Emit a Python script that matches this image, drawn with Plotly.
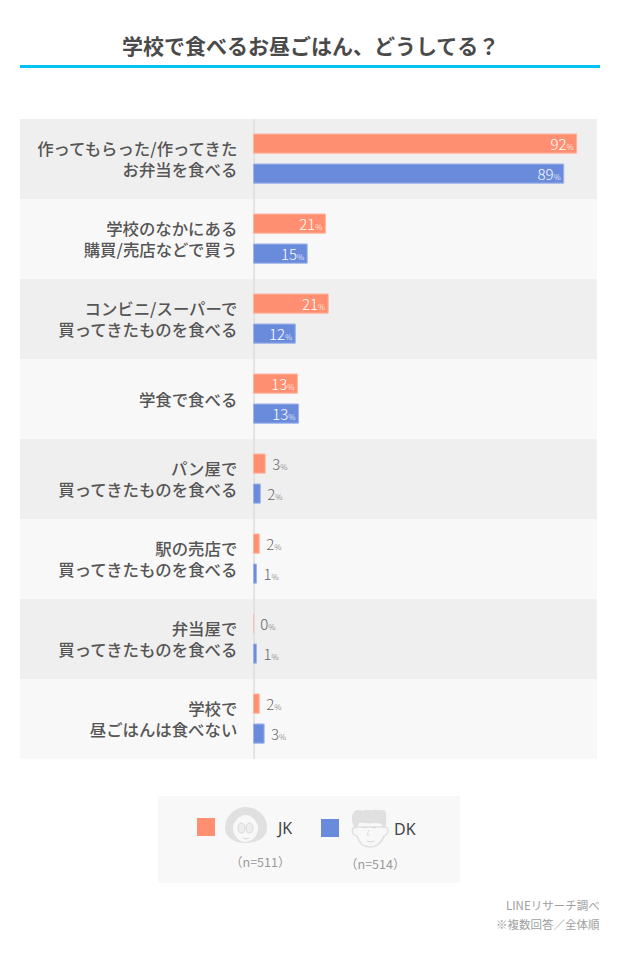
import plotly.graph_objects as go

categories = [
    "作ってもらった/作ってきた<br>お弁当を食べる",
    "学校のなかにある<br>購買/売店などで買う",
    "コンビニ/スーパーで<br>買ってきたものを食べる",
    "学食で食べる",
    "パン屋で<br>買ってきたものを食べる",
    "駅の売店で<br>買ってきたものを食べる",
    "弁当屋で<br>買ってきたものを食べる",
    "学校で<br>昼ごはんは食べない",
]
jk_values = [92.4, 20.6, 21.4, 12.6, 3.4, 1.7, 0.0, 1.7]
dk_values = [88.7, 15.4, 12.0, 12.9, 2.0, 0.9, 0.9, 3.1]
jk_labels = ["92", "21", "21", "13", "3", "2", "0", "2"]
dk_labels = ["89", "15", "12", "13", "2", "1", "1", "3"]
title_text = "学校で食べるお昼ごはん、どうしてる？"
series_names = ["JK", "DK"]
sample_sizes = ["（n=511）", "（n=514）"]
source_notes = ["LINEリサーチ調べ", "※複数回答／全体順"]

W, H = 620, 956
FONT = "Noto Sans CJK JP"
ORANGE, BLUE = "#ff8f70", "#6a8bdc"
PCT = "<span style='font-size:8px'>%</span>"


def X(p):
    return p / W


def Y(p):
    return 1 - p / H


def rect(x0, y0, x1, y1, color, layer="below"):
    return dict(type="rect", xref="paper", yref="paper", x0=X(x0), x1=X(x1), y0=Y(y0), y1=Y(y1),
                fillcolor=color, line_width=0, layer=layer)


def path(points, fill, line=None, lw=0):
    out, is_x = [], True
    for tok in points.split():
        if tok[0].isalpha():
            out.append(tok)
            is_x = True
        else:
            v = float(tok)
            out.append(f"{X(v) if is_x else Y(v)}")
            is_x = not is_x
    return dict(type="path", xref="paper", yref="paper", path=" ".join(out), fillcolor=fill,
                line=dict(color=line or fill, width=lw), layer="above")


def bar_trace(values, labels, color, edge, offset):
    text, pos, tcol = [], [], []
    for v, l in zip(values, labels):
        inside = v >= 10
        text.append(l + PCT if inside else "\u2009\u200a" + l + PCT)
        pos.append("inside" if inside else "outside")
        tcol.append("#ffffff" if inside else "#666666")
    return go.Bar(
        x=values, y=list(range(len(values))), orientation="h", width=0.24, offset=offset,
        marker=dict(color=color, line=dict(color=edge, width=1)),
        text=text, textposition=pos, insidetextanchor="end", textangle=0,
        textfont=dict(family=FONT, size=15, color=tcol, weight=300), constraintext="none",
        cliponaxis=False, showlegend=False, hoverinfo="skip",
    )


fig = go.Figure()
fig.add_trace(bar_trace(jk_values, jk_labels, ORANGE, "#ffb5a0", -0.3125))
fig.add_trace(bar_trace(dk_values, dk_labels, BLUE, "#9db3ea", 0.0625))

shapes = [rect(20, 65, 600, 68, "#00c3f5")]
for i in range(len(categories)):
    shapes.append(rect(20, 119 + 80 * i, 597, 199 + 80 * i, "#efefef" if i % 2 == 0 else "#f8f8f8"))
shapes.append(rect(253.3, 119, 255, 759, "#e0e0e0"))
shapes.append(rect(158, 796, 460, 883, "#f8f8f8"))
shapes.append(rect(197, 818, 215, 836, ORANGE, "above"))
shapes.append(rect(321, 819, 339, 837, BLUE, "above"))

GREY, SOFT, NONE = "#e0e0e0", "#d4d4d4", "rgba(0,0,0,0)"
# JK face
shapes.append(path("M 246 807 C 258 807 267 817 267 827 C 267 838 258 842 248 843 C 236 844 225 838 225 828 C 225 817 234 807 246 807 Z", GREY))
shapes.append(path("M 245.5 815 C 251 815 256 820 258 826 C 259 835 252 842 245.5 842 C 239 842 232 835 233 826 C 235 820 240 815 245.5 815 Z", "#f8f8f8"))
shapes.append(path("M 241.5 823 C 244 823 245 826 245 828 C 245 831 244 833 241.5 833 C 239 833 238 831 238 828 C 238 826 239 823 241.5 823 Z", "#ededed", SOFT, 0.8))
shapes.append(path("M 249.5 823 C 252 823 253 826 253 828 C 253 831 252 833 249.5 833 C 247 833 246 831 246 828 C 246 826 247 823 249.5 823 Z", "#ededed", SOFT, 0.8))
shapes.append(path("M 243 838 C 245 839 247 839 249 838", NONE, SOFT, 1))
# DK face
shapes.append(path("M 356 827 C 351 826 351 835 357 836 C 359 843 364 847 370 847 C 376 847 382 843 384 836 C 389 835 389 826 385 827 Z", "#f8f8f8", GREY, 1.5))
shapes.append(path("M 353 813 C 356 809 360 810 363 811 C 366 809 370 811 373 810 C 377 809 379 811 382 810 C 386 810 387 813 386 816 C 387 821 386 826 384 829 C 383 825 380 823 377 823 C 369 824 363 823 359 823 C 358 826 357 828 355 829 C 352 824 351 817 353 813 Z", GREY))
shapes.append(path("M 363 828 C 364 827 366 827 367 828", NONE, SOFT, 1))
shapes.append(path("M 372 828 C 373 827 375 827 376 828", NONE, SOFT, 1))
shapes.append(path("M 369 830 L 367 835 L 370 835", NONE, SOFT, 0.8))
shapes.append(path("M 367 841 C 369 842 372 842 374 841", NONE, SOFT, 1))

ann = []


def text(x, y, s, size, color, anchor="center", family=FONT, weight=None):
    ann.append(dict(x=X(x), y=Y(y), xref="paper", yref="paper", text=s, showarrow=False, xanchor=anchor,
                    yanchor="middle", borderpad=0,
                    font=dict(family=family, size=size, color=color, weight=weight)))


text(310, 45, title_text, 21, "#4a4a4a", weight=700)
text(274.5, 828, series_names[0], 16, "#444444", "left", "Noto Sans")
text(393, 829, series_names[1], 16, "#444444", "left", "Noto Sans")
text(260, 861, sample_sizes[0], 12.5, "#999999")
text(374.5, 863, sample_sizes[1], 12.5, "#999999")
text(600.5, 905, source_notes[0], 11.5, "#a0a0a0", "right")
text(600.5, 924, source_notes[1], 11.5, "#a0a0a0", "right")

fig.update_layout(
    width=W, height=H, margin=dict(l=0, r=0, t=0, b=0), paper_bgcolor="#ffffff", plot_bgcolor="rgba(0,0,0,0)",
    barmode="overlay", shapes=shapes, annotations=ann, font=dict(family=FONT),
    xaxis=dict(domain=[X(253.3), X(597)], range=[0, (597 - 253.3) / 3.5], visible=False, fixedrange=True),
    yaxis=dict(domain=[Y(759), Y(119)], range=[7.5, -0.5], tickmode="array",
               tickvals=[i + 0.0125 for i in range(len(categories))],
               ticktext=categories, tickfont=dict(family=FONT, size=16.4, color="#555555", weight=500), showgrid=False,
               zeroline=False, showline=False, ticks="", ticklabelstandoff=15, fixedrange=True),
)

fig.write_html("out.html", config={"displayModeBar": False},
               post_script="document.body.style.margin='0';")
